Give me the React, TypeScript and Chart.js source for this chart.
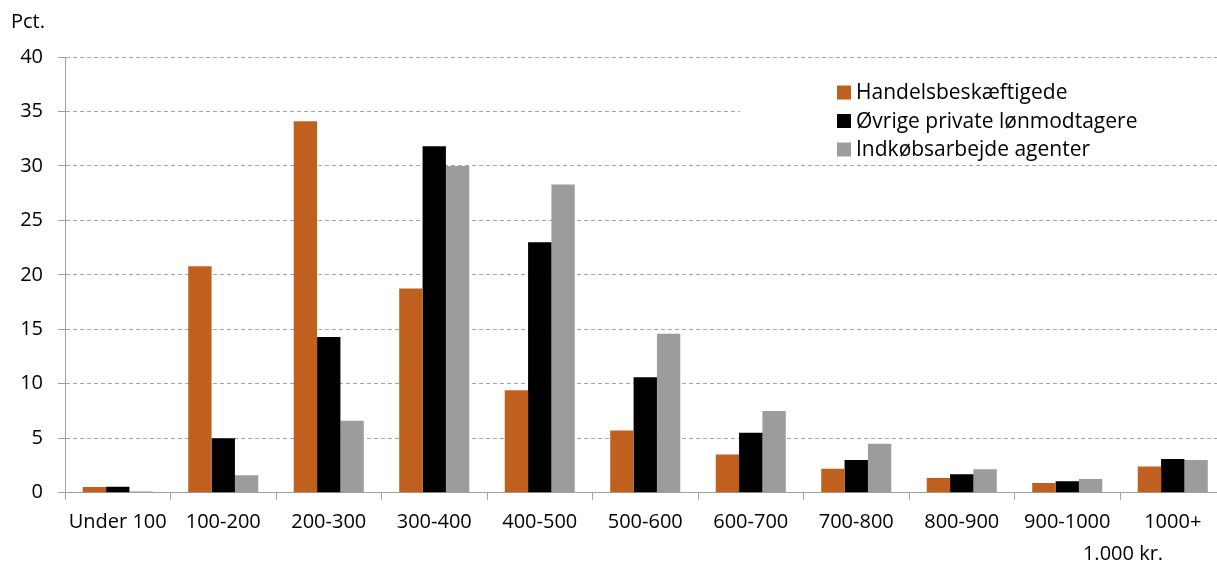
import React, { useEffect, useRef } from "react";
import { Chart, registerables } from "chart.js";

Chart.register(...registerables);

const categories = ["Under 100", "100-200", "200-300", "300-400", "400-500", "500-600", "600-700", "700-800", "800-900", "900-1000", "1000+"];
const handelsbeskaeftigede = [0.52, 20.8, 34.1, 18.75, 9.4, 5.7, 3.5, 2.2, 1.35, 0.9, 2.4];
const oevrigePrivate = [0.55, 5.0, 14.3, 31.8, 23.0, 10.6, 5.5, 3.0, 1.7, 1.05, 3.1];
const indkoebsarbejde = [0.1, 1.6, 6.6, 30.0, 28.3, 14.6, 7.5, 4.5, 2.15, 1.25, 3.0];
const seriesLabels = ["Handelsbeskæftigede", "Øvrige private lønmodtagere", "Indkøbsarbejde agenter"];
const yTicks = [0, 5, 10, 15, 20, 25, 30, 35, 40];
const yUnit = "Pct.";
const xUnit = "1.000 kr.";

const FONT = "'Open Sans', Lato, sans-serif";
const COLORS = ["#C0601E", "#000000", "#9C9C9C"];

const extrasPlugin = {
  id: "extras",
  afterDraw(chart: any) {
    const ctx = chart.ctx;
    ctx.save();
    // legend background
    ctx.fillStyle = "#ffffff";
    ctx.fillRect(740, 70, 600, 90);
    ctx.font = `21px ${FONT}`;
    ctx.textBaseline = "middle";
    ctx.textAlign = "left";
    const rows = [92.5, 121, 149.5];
    chart.data.datasets.forEach((ds: any, i: number) => {
      ctx.fillStyle = ds.backgroundColor;
      ctx.fillRect(837, rows[i] - 7, 14, 14);
      ctx.fillStyle = "#000";
      ctx.fillText(ds.label, 856, rows[i] + 1);
    });
    // unit labels
    ctx.font = `20px ${FONT}`;
    ctx.fillText(yUnit, 11, 22);
    ctx.textAlign = "center";
    ctx.fillText(xUnit, 1123, 554);
    ctx.restore();
  },
};

export default function App() {
  const ref = useRef<HTMLCanvasElement>(null);
  useEffect(() => {
    if (!ref.current) return;
    const chart = new Chart(ref.current, {
      type: "bar",
      data: {
        labels: categories,
        datasets: [handelsbeskaeftigede, oevrigePrivate, indkoebsarbejde].map((d, i) => ({
          label: seriesLabels[i],
          data: d,
          backgroundColor: COLORS[i],
          borderWidth: 0,
          categoryPercentage: 0.664,
          barPercentage: 1.0,
        })),
      },
      options: {
        animation: false,
        responsive: true,
        maintainAspectRatio: false,
        layout: { padding: { top: 57, right: 0.5, left: 0, bottom: 0 } },
        plugins: { legend: { display: false }, tooltip: { enabled: false } },
        scales: {
          x: {
            offset: true,
            grid: { offset: true, drawOnChartArea: false, drawTicks: true, tickLength: 7, color: "#A0A0A0", tickColor: "#A0A0A0" },
            border: { display: true, color: "#A0A0A0", width: 1 },
            ticks: { color: "#000", font: { family: FONT, size: 20 }, padding: 11, maxRotation: 0, autoSkip: false },
            afterFit: (s: any) => { s.height = 74.3; },
          },
          y: {
            min: 0,
            max: 40,
            afterBuildTicks: (s: any) => { s.ticks = yTicks.map((v) => ({ value: v })); },
            grid: { color: "#A6A6A6", lineWidth: 1, tickLength: 7, tickColor: "#A0A0A0", tickBorderDash: [] },
            border: { display: true, color: "#A0A0A0", dash: [4, 3] },
            ticks: { color: "#000", font: { family: FONT, size: 20 }, padding: 15 },
            afterFit: (s: any) => { s.width = 65; },
          },
        },
      },
      plugins: [extrasPlugin],
    });
    return () => chart.destroy();
  }, []);
  return (
    <div style={{ position: "fixed", left: 0, top: 0, width: 1217, height: 567, overflow: "hidden", background: "#fff" }}>
      <div style={{ position: "relative", width: 1226, height: 567 }}>
        <canvas ref={ref} />
      </div>
    </div>
  );
}
